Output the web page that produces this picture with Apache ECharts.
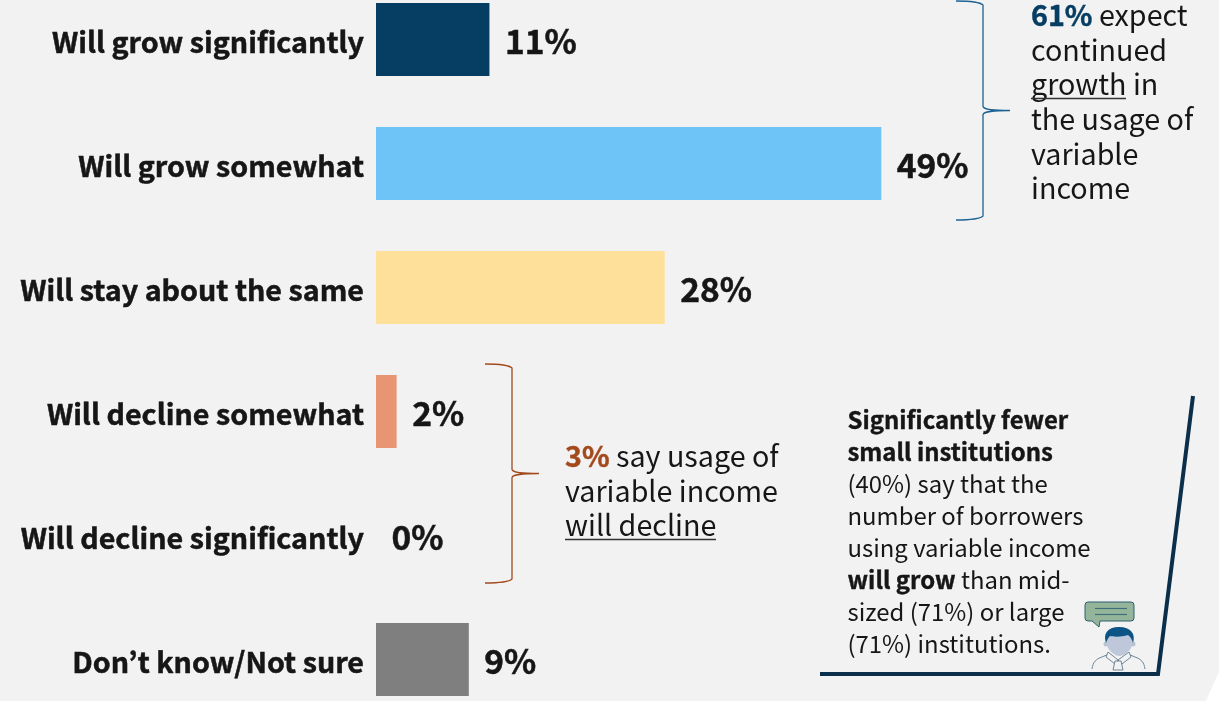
<!DOCTYPE html>
<html>
<head>
<meta charset="utf-8">
<style>html,body{margin:0;padding:0;background:#f2f2f2}#chart{width:1219px;height:701px}</style>
<script src="https://cdn.jsdelivr.net/npm/echarts@6/dist/echarts.min.js"></script>
</head>
<body>
<div id="chart"></div>
<script>
const categories = ['Will grow significantly', 'Will grow somewhat', 'Will stay about the same', 'Will decline somewhat', 'Will decline significantly', 'Don’t know/Not sure'];
const shares = [11, 49, 28, 2, 0, 9];
const barColors = ['#063d63', '#6ec3f7', '#ffe09a', '#e79573', '#e79573', '#7f7f7f'];

const FONT = '"Noto Sans CJK KR", "Noto Sans", sans-serif';
const INK = '#161616';
const NAVY = '#063d63';
const BLUE_BRACE = '#1d6294';
const RUST = '#a34a1c';

// Graphic elements have no built-in SVG path type, so each outline is registered as a shape
let shapeCount = 0;
function svgPath(pathData, style) {
  const name = 'outline' + shapeCount++;
  echarts.graphic.registerShape(name, echarts.graphic.extendPath(pathData, {}));
  return { type: name, silent: true, style };
}

// Curly brace opening towards the bars, tip pointing right
function bracePath(x, top, bottom, tip) {
  const mid = (top + bottom) / 2;
  const sx = x - 27;
  const spine = x;
  return `M${sx} ${top} C${sx + 14} ${top} ${spine - 3} ${top + 1} ${spine} ${top + 4}` +
    ` L${spine} ${mid - 4} C${spine + 1} ${mid - 1} ${spine + 8} ${mid} ${tip} ${mid}` +
    ` C${spine + 8} ${mid} ${spine + 1} ${mid + 1} ${spine} ${mid + 4}` +
    ` L${spine} ${bottom - 4} C${spine - 3} ${bottom - 1} ${sx + 14} ${bottom} ${sx} ${bottom}`;
}

function note(x, y, lines, fontSize, lineHeight, accent) {
  const boldColor = accent || INK;
  return {
    type: 'text', x, y, silent: true,
    style: {
      text: lines.join('\n'),
      font: `${fontSize}px ${FONT}`,
      fill: INK,
      lineHeight,
      rich: {
        n: { fontSize, fontFamily: FONT, fill: INK, lineHeight },
        b: { fontSize, fontFamily: FONT, fontWeight: 700, fill: boldColor, stroke: boldColor, lineWidth: 0.4, lineHeight }
      }
    }
  };
}

function rule(x1, x2, y, color, width) {
  return { type: 'line', silent: true, shape: { x1, y1: y, x2, y2: y }, style: { stroke: color, lineWidth: width } };
}

const annotations = [
  // white page corner behind the panel
  svgPath('M1219 672 C1214 682 1210 692 1206 701 L1219 701 Z', { fill: '#ffffff' }),

  // growth bracket and note
  svgPath(bracePath(983, 1, 220, 1010), { fill: 'none', stroke: BLUE_BRACE, lineWidth: 1.3 }),
  note(1031, -2, ['{b|61%}{n| expect}', '{n|continued}', '{n|growth in}', '{n|the usage of}', '{n|variable}', '{n|income}'], 28.7, 34.6, NAVY),
  rule(1031, 1126, 98.5, '#333333', 1.4),

  // decline bracket and note
  svgPath(bracePath(512, 364, 583, 539), { fill: 'none', stroke: RUST, lineWidth: 1.3 }),
  note(565, 439, ['{b|3%}{n| say usage of}', '{n|variable income}', '{n|will decline}'], 28.7, 34.6, RUST),
  rule(565, 716, 539.5, '#333333', 1.4),

  // callout panel outline
  { type: 'polyline', silent: true, shape: { points: [[820, 674], [1158, 674], [1193, 396]] }, style: { fill: 'none', stroke: '#0b2f4a', lineWidth: 4 } },
  note(847.5, 404, ['{b|Significantly fewer}', '{b|small institutions}', '{n|(40%) say that the}', '{n|number of borrowers}', '{n|using variable income}', '{b|will grow}{n| than mid-}', '{n|sized (71%) or large}', '{n|(71%) institutions.}'], 23.9, 32),

  // speech bubble
  svgPath('M1088 602 L1131 602 Q1134 602 1134 605 L1134 618 Q1134 621 1131 621 L1100 621 L1099 627 L1092 621 L1088 621 Q1085 621 1085 618 L1085 605 Q1085 602 1088 602 Z', { fill: '#94b59a', stroke: '#2f5f73', lineWidth: 1 }),
  rule(1095, 1127, 608.5, '#3f6f78', 1.2),
  rule(1095, 1127, 614.5, '#3f6f78', 1.2),

  // person icon: shoulders, collar, tie, ears, face, hair
  svgPath('M1092 669 C1093 662 1096 659 1102 657 L1109 654 M1128 654 L1135 657 C1141 659 1144 662 1145 669', { fill: 'none', stroke: '#6c8799', lineWidth: 1 }),
  svgPath('M1108 652 L1118 660 L1129 652 L1131 657 L1122 664 L1118 660 L1115 664 L1106 657 Z', { fill: '#f2f2f2', stroke: '#6c8799', lineWidth: 1 }),
  svgPath('M1115 661 L1121 661 L1123 670 L1113 670 Z', { fill: '#f2f2f2', stroke: '#6c8799', lineWidth: 1 }),
  { type: 'circle', silent: true, shape: { cx: 1106, cy: 644, r: 2.5 }, style: { fill: '#b9c3d6' } },
  { type: 'circle', silent: true, shape: { cx: 1133, cy: 644, r: 2.5 }, style: { fill: '#b9c3d6' } },
  svgPath('M1107 634 L1132 634 L1132 645 C1131 651 1124 656 1119.5 656 C1115 656 1108 651 1107 645 Z', { fill: '#bfc8da' }),
  svgPath('M1106 643 C1103 634 1107 627 1119 627 C1131 627 1136 634 1133 643 C1132 640 1131 637 1128 635 C1122 637 1114 637 1110 636 C1108 638 1107 640 1106 643 Z', { fill: '#0c5485' })
];

const chart = echarts.init(document.getElementById('chart'), null, { renderer: 'canvas' });
chart.setOption({
  backgroundColor: '#f2f2f2',
  animation: false,
  grid: { left: 376, top: -22.5, width: 825, height: 744, containLabel: false, outerBoundsMode: 'none' },
  xAxis: { type: 'value', min: 0, max: 80, show: false },
  yAxis: {
    type: 'category',
    inverse: true,
    data: categories,
    axisLine: { show: false },
    axisTick: { show: false },
    axisLabel: {
      margin: 12,
      formatter: '{cat|{value}}',
      rich: {
        cat: {
          padding: [5, 0, 0, 0],
          fontFamily: FONT,
          fontSize: 28.7,
          fontWeight: 700,
          color: INK,
          textBorderColor: INK,
          textBorderWidth: 0.5
        }
      }
    }
  },
  series: [{
    type: 'bar',
    barWidth: 73,
    data: shares.map((v, i) => ({ value: v, itemStyle: { color: barColors[i] } })),
    label: {
      show: true,
      position: 'right',
      distance: 15,
      offset: [0.5, 1.5],
      formatter: '{c}%',
      fontFamily: FONT,
      fontSize: 33.5,
      fontWeight: 700,
      color: INK,
      textBorderColor: INK,
      textBorderWidth: 0.5
    }
  }],
  graphic: annotations
});
</script>
</body>
</html>
